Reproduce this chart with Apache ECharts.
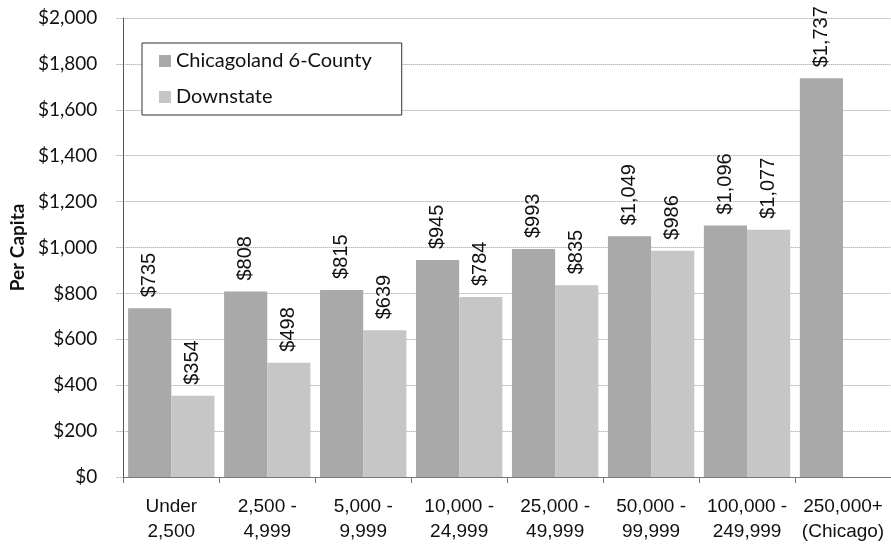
<!DOCTYPE html>
<html>
<head>
<meta charset="utf-8">
<script src="https://cdn.jsdelivr.net/npm/echarts@6/dist/echarts.min.js"></script>
<style>
html,body{margin:0;padding:0;background:#fff;}
#chart{width:891px;height:544px;}
</style>
</head>
<body>
<div id="chart"></div>
<script>
var categories = ['Under\n2,500', '2,500 -\n4,999', '5,000 -\n9,999', '10,000 -\n24,999', '25,000 -\n49,999', '50,000 -\n99,999', '100,000 -\n249,999', '250,000+\n(Chicago)'];
var chicagoland = [735, 808, 815, 945, 993, 1049, 1096, 1737];
var downstate = [354, 498, 639, 784, 835, 986, 1077, null];
var seriesNames = ['Chicagoland 6-County', 'Downstate'];
var yTicks = { min: 0, max: 2000, interval: 200 };

var narrow = '"Liberation Sans", Arial, sans-serif';
var calib = 'Lato, "Open Sans", sans-serif';

function money(v) { return '$' + Number(v).toLocaleString('en-US'); }

var labelCfg = {
  show: true,
  position: 'top',
  rotate: 90,
  align: 'left',
  verticalAlign: 'middle',
  distance: 11,
  color: '#111',
  fontFamily: narrow,
  fontSize: 20,
  formatter: function (p) { return p.value == null ? '' : money(p.value); }
};

var chart = echarts.init(document.getElementById('chart'), null, { renderer: 'canvas' });
chart.setOption({
  animation: false,
  backgroundColor: '#fff',
  grid: { left: 118, top: 18, width: 779, height: 459, containLabel: false },
  legend: {
    orient: 'vertical',
    left: 142,
    top: 43,
    data: seriesNames,
    icon: 'rect',
    itemWidth: 12,
    itemHeight: 12,
    itemGap: 16,
    padding: [8, 30, 8, 17],
    borderColor: '#333',
    borderWidth: 1,
    backgroundColor: '#fff',
    textStyle: { fontFamily: calib, fontSize: 20, color: '#111' }
  },
  xAxis: {
    type: 'category',
    data: categories,
    axisLine: { lineStyle: { color: '#777', width: 1 } },
    axisTick: { show: true, length: 6, lineStyle: { color: '#777' } },
    axisLabel: { interval: 0, fontFamily: narrow, fontSize: 19, color: '#111', lineHeight: 25, margin: 17 },
    splitLine: { show: false }
  },
  yAxis: {
    type: 'value',
    min: yTicks.min,
    max: yTicks.max,
    interval: yTicks.interval,
    name: 'Per Capita',
    nameLocation: 'middle',
    nameGap: 96,
    nameRotate: 90,
    nameTextStyle: { fontFamily: calib, fontWeight: 'bold', fontSize: 19, color: '#111' },
    axisLine: { show: true, lineStyle: { color: '#555', width: 1 } },
    axisTick: { show: true, length: 8, lineStyle: { color: '#999', type: 'dotted' } },
    axisLabel: { fontFamily: calib, fontSize: 19, color: '#111', margin: 26, formatter: money },
    splitLine: { show: true, lineStyle: { color: '#999', type: 'dotted', width: 1 } }
  },
  series: [
    {
      name: seriesNames[0],
      type: 'bar',
      data: chicagoland,
      barGap: '0%',
      barCategoryGap: '10%',
      itemStyle: { color: '#a9a9a9' },
      label: labelCfg
    },
    {
      name: seriesNames[1],
      type: 'bar',
      data: downstate,
      barGap: '0%',
      barCategoryGap: '10%',
      itemStyle: { color: '#c6c6c6' },
      label: labelCfg
    }
  ]
});
</script>
</body>
</html>
